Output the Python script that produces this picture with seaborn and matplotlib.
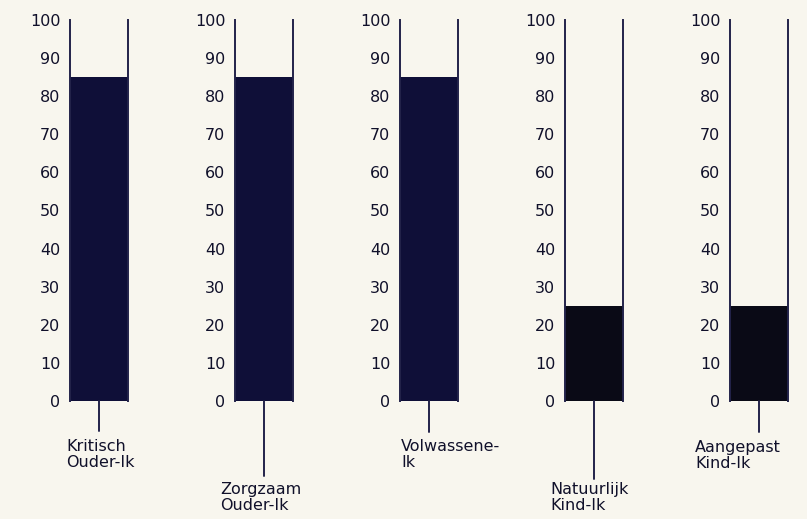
import matplotlib
matplotlib.use("Agg")
import matplotlib.pyplot as plt
import seaborn as sns

categories = ["Kritisch\nOuder-Ik", "Zorgzaam\nOuder-Ik", "Volwassene-\nIk",
              "Natuurlijk\nKind-Ik", "Aangepast\nKind-Ik"]
values = [85, 85, 85, 25, 25]
tick_values = [0, 10, 20, 30, 40, 50, 60, 70, 80, 90, 100]
bar_colors = ["#0f0f38", "#0f0f38", "#0f0f38", "#0a0a16", "#0a0a16"]

# layout (pixels)
W, H = 807, 519
bg = "#f8f6ee"
line_col = "#23234a"
ax_left_px = [70, 235, 400, 565, 730]
ax_w_px = 58
ax_top_px, ax_bot_px = 20, 401
stem_end_px = [431, 476, 432, 479, 432]
label_left_px = [66, 220, 401, 550, 695]
label_top_px = [439, 482, 439, 482, 440]

sns.set_theme(style="white")
plt.rcParams['font.family'] = ['DejaVu Sans']

fig = plt.figure(figsize=(W / 100, H / 100), dpi=100)
fig.patch.set_facecolor(bg)

px_per_unit = (ax_bot_px - ax_top_px) / 100.0

for i, (cat, val) in enumerate(zip(categories, values)):
    ax = fig.add_axes([ax_left_px[i] / W, (H - ax_bot_px) / H,
                       ax_w_px / W, (ax_bot_px - ax_top_px) / H])
    ax.set_facecolor("none")
    sns.barplot(x=[cat], y=[val], ax=ax, width=1.0, color=bar_colors[i],
                saturation=1, edgecolor="none", linewidth=0)
    ax.set_xlim(-0.5, 0.5)
    ax.set_ylim(0, 100)
    ax.set_yticks(tick_values)
    ax.set_yticklabels([str(t) for t in tick_values], fontsize=11.5,
                       color="#10102a", fontweight="medium")
    ax.tick_params(axis="y", length=0, pad=7)
    ax.set_xticks([])
    ax.set_xlabel("")
    ax.set_ylabel("")
    for s in ["top", "bottom"]:
        ax.spines[s].set_visible(False)
    for s in ["left", "right"]:
        ax.spines[s].set_visible(True)
        ax.spines[s].set_color(line_col)
        ax.spines[s].set_linewidth(1.4)
    # stem
    y_end = -(stem_end_px[i] - ax_bot_px) / px_per_unit
    ax.plot([0, 0], [0, y_end], color=line_col, lw=1.4, clip_on=False)
    # label
    lx = (label_left_px[i] - ax_left_px[i]) / ax_w_px - 0.5
    ly = -(label_top_px[i] - ax_bot_px) / px_per_unit
    ax.text(lx, ly, cat, ha="left", va="top", fontsize=11.5, color="#10102a",
            linespacing=1.1, clip_on=False)

fig.savefig("out.png", dpi=100, facecolor=bg)
